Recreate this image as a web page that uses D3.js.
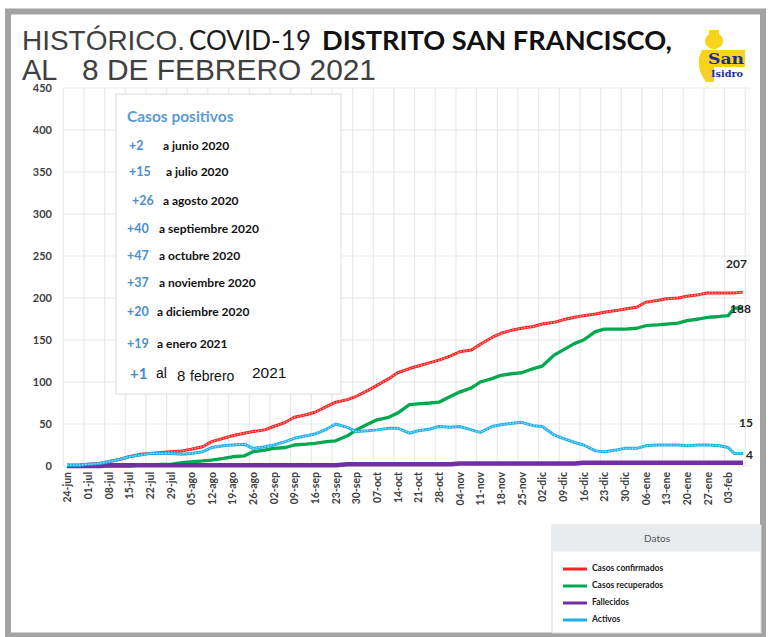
<!DOCTYPE html>
<html>
<head>
<meta charset="utf-8">
<script src="https://cdn.jsdelivr.net/npm/d3@7"></script>
<style>
  body { margin: 0; background: #fff; }
</style>
</head>
<body>
<div id="chart"></div>
<script>
// --- data ---
var dates = ['2020-06-24','2020-06-28','2020-07-01','2020-07-05','2020-07-08','2020-07-12','2020-07-15','2020-07-19',
  '2020-07-22','2020-07-26','2020-07-29','2020-08-02','2020-08-05','2020-08-09','2020-08-12','2020-08-16','2020-08-19',
  '2020-08-23','2020-08-26','2020-08-30','2020-09-02','2020-09-06','2020-09-09','2020-09-13','2020-09-16','2020-09-20',
  '2020-09-23','2020-09-27','2020-09-30','2020-10-04','2020-10-07','2020-10-11','2020-10-14','2020-10-18','2020-10-21',
  '2020-10-25','2020-10-28','2020-11-01','2020-11-04','2020-11-08','2020-11-11','2020-11-15','2020-11-18','2020-11-22',
  '2020-11-25','2020-11-29','2020-12-02','2020-12-06','2020-12-09','2020-12-13','2020-12-16','2020-12-20','2020-12-23',
  '2020-12-27','2020-12-30','2021-01-03','2021-01-06','2021-01-10','2021-01-13','2021-01-17','2021-01-20','2021-01-24',
  '2021-01-27','2021-01-31','2021-02-03','2021-02-05','2021-02-08'];

var confirmados = [1,1,2,3,5,8,11,14, 15,16,17,18,20,23,29,33,36, 39,41,43,47,52,58,61,64,71,
  76,79,83,90,96,104,111,116,119, 123,126,131,136,138,145,153,158,162, 164,166,169,171,174,177,179,181,183,
  185,187,189,195,197,199,200,202,204, 206,206,206,206,207];
var recuperados = [0,0,0,0,0,0,0,1, 1,2,2,4,5,6,7,9,11, 12,17,19,21,22,25,26,27,29,
  30,36,43,50,55,58,63,73,74, 75,76,83,88,93,100,104,108,110, 111,116,119,132,138,146,150,160,163,
  163,163,164,167,168,169,170,173,175, 177,178,179,188,188];
var fallecidos = [0,0,0,0,1,1,1,1, 1,1,1,1,1,1,1,1,1, 1,1,1,1,1,1,1,1,1,
  1,2,2,2,2,2,2,2,2, 2,2,2,3,3,3,3,3,3, 3,3,3,3,3,3,4,4,4,
  4,4,4,4,4,4,4,4,4, 4,4,4,4,4];
var activos = [1,1,2,3,5,8,11,13, 15,15,15,14,15,17,22,24,25, 26,21,23,25,29,33,36,38,44,
  50,46,41,42,43,45,45,39,42, 44,47,46,47,43,40,47,49,51, 52,48,47,37,33,28,25,18,17,
  19,21,21,24,25,25,25,24,25, 25,24,22,15,15];

var yTicks = [0,50,100,150,200,250,300,350,400,450];
var mesesAbr = ['ene','feb','mar','abr','may','jun','jul','ago','sep','oct','nov','dic'];

var casosMes = ['+2','+15','+26','+40','+47','+37','+20','+19'];
var casosTexto = ['a junio 2020','a julio 2020','a agosto 2020','a septiembre 2020','a octubre 2020',
  'a noviembre 2020','a diciembre 2020','a enero 2021'];

var seriesNames = ['Casos confirmados','Casos recuperados','Fallecidos','Activos'];
var seriesColors = ['#ff2020','#00a84f','#7030a0','#1eb0ea'];

// --- layout ---
var W = 769, H = 637;
var svg = d3.select('#chart').append('svg').attr('width', W).attr('height', H)
  .attr('font-family', 'Lato, "Open Sans", sans-serif');
var ARIAL = '"Liberation Sans", Arial, sans-serif';

svg.append('rect').attr('x', 8).attr('y', 11.5).attr('width', 755).attr('height', 624)
  .attr('fill', '#fff').attr('stroke', '#a3a3a3').attr('stroke-width', 6);

var parse = d3.timeParse('%Y-%m-%d');
var dts = dates.map(parse);

var x = d3.scaleTime()
  .domain([parse('2020-06-24'), parse('2021-02-08')])
  .range([67, 743]);
var y = d3.scaleLinear().domain([0, 450]).range([466, 88]);

var weeks = d3.timeWednesday.range(parse('2020-06-24'), parse('2021-02-05'));

// gridlines
var grid = svg.append('g');
grid.selectAll('line.h').data(yTicks).enter().append('line')
  .attr('x1', 63).attr('x2', 750)
  .attr('y1', function(d){ return y(d); }).attr('y2', function(d){ return y(d); })
  .attr('stroke', '#e6eaec').attr('stroke-width', 1.2);
grid.selectAll('line.v').data(weeks.concat([d3.timeDay.offset(weeks[weeks.length-1], 7)])).enter().append('line')
  .attr('x1', function(d){ return x(d3.timeHour.offset(d, -30)); })
  .attr('x2', function(d){ return x(d3.timeHour.offset(d, -30)); })
  .attr('y1', 88).attr('y2', 466)
  .attr('stroke', '#e6eaec').attr('stroke-width', 1.2);

// y axis labels
svg.append('g').selectAll('text').data(yTicks).enter().append('text')
  .attr('x', 52).attr('y', function(d){ return y(d); }).attr('dy', '0.35em')
  .attr('text-anchor', 'end').attr('font-size', 11).attr('font-weight', 'bold')
  .attr('fill', '#404040').text(function(d){ return d; });

// x axis labels
var fmtDia = d3.timeFormat('%d');
var xAxis = d3.axisBottom(x).tickValues(weeks).tickSize(0)
  .tickFormat(function(d){ return fmtDia(d) + '-' + mesesAbr[d.getMonth()]; });
var xg = svg.append('g').attr('transform', 'translate(0,466)').call(xAxis);
xg.select('.domain').remove();
xg.attr('font-family', null);
xg.selectAll('text')
  .attr('transform', 'rotate(-90)')
  .attr('x', -6).attr('y', 0).attr('dy', '0.35em')
  .style('text-anchor', 'end')
  .attr('font-size', 10.5).attr('font-weight', 'bold').attr('fill', '#404040');

// series
var seriesData = [confirmados, recuperados, fallecidos, activos];
var widths = [3, 3.3, 4.5, 3];
var line = function(vals){
  return d3.line()
    .x(function(d, i){ return x(dts[i]); })
    .y(function(d){ return y(d); })(vals);
};
seriesData.forEach(function(vals, k){
  svg.append('path').attr('d', line(vals))
    .attr('fill', 'none').attr('stroke', seriesColors[k])
    .attr('stroke-width', widths[k]).attr('stroke-linejoin', 'round');
  if (k === 0 || k === 3) {
    // marker-like texture of the original
    svg.append('path').attr('d', line(vals))
      .attr('fill', 'none').attr('stroke', k === 0 ? '#ffb3b3' : '#a8e2f8')
      .attr('stroke-width', 1.1).attr('stroke-dasharray', '1.5 1.5');
  }
});

// end labels
var last = dates.length - 1;
var endLabels = [
  { txt: confirmados[last], dx: -17, dy: -28 },
  { txt: recuperados[last], dx: -13, dy: 1 },
  { txt: activos[last], dx: -4, dy: -31 },
  { txt: fallecidos[last], dx: 3, dy: -8 }
];
var endVals = [confirmados[last], recuperados[last], activos[last], fallecidos[last]];
svg.append('g').selectAll('text').data(endLabels).enter().append('text')
  .attr('x', function(d){ return x(dts[last]) + d.dx; })
  .attr('y', function(d, i){ return y(endVals[i]) + d.dy; })
  .attr('dy', '0.35em').attr('font-size', 12).attr('font-weight', 'bold')
  .attr('fill', '#262626').text(function(d){ return d.txt; });

// Casos positivos box
var box = svg.append('g');
box.append('rect').attr('x', 116).attr('y', 94).attr('width', 225).attr('height', 300)
  .attr('fill', '#fff').attr('stroke', '#dcdcdc');
box.append('text').attr('x', 127).attr('y', 122).attr('font-size', 15.5).attr('font-weight', 'bold')
  .attr('fill', '#5b9bd5').text('Casos positivos');
var rowY = [146, 172, 201, 229, 256, 283, 312, 344];
var numX = [129, 129, 132, 127, 127, 127, 127, 127];
var txtX = [163, 166, 163, 159, 159, 159, 157, 157];
casosMes.forEach(function(c, i){
  box.append('text').attr('x', numX[i]).attr('y', rowY[i]).attr('dy', '0.35em')
    .attr('font-size', 12.5).attr('font-weight', 'bold').attr('fill', '#4a8ed0').text(c);
  box.append('text').attr('x', txtX[i]).attr('y', rowY[i]).attr('dy', '0.35em')
    .attr('font-size', 12).attr('font-weight', 'bold').attr('fill', '#111').text(casosTexto[i]);
});
box.append('text').attr('x', 130).attr('y', 374).attr('dy', '0.35em')
  .attr('font-size', 15).attr('font-weight', 'bold').attr('fill', '#4a8ed0').text('+1');
var lastRow = box.append('text').attr('y', 372).attr('dy', '0.35em')
  .attr('font-family', ARIAL).attr('fill', '#111');
lastRow.append('tspan').attr('x', 156).attr('font-size', 14).text('al');
lastRow.append('tspan').attr('x', 177).attr('dy', 3).attr('font-size', 15).text('8');
lastRow.append('tspan').attr('x', 190).attr('font-size', 14).text('febrero');
lastRow.append('tspan').attr('x', 252).attr('dy', -3).attr('font-size', 15.5).text('2021');

// title
var t1 = svg.append('text').attr('x', 22).attr('y', 50).attr('fill', '#404040');
t1.append('tspan').attr('font-family', ARIAL).attr('font-size', 28)
  .attr('textLength', 163).attr('lengthAdjust', 'spacingAndGlyphs').text('HISTÓRICO.');
t1.append('tspan').attr('x', 189).attr('font-size', 27).attr('fill', '#1a1a1a')
  .attr('textLength', 122).attr('lengthAdjust', 'spacingAndGlyphs').text('COVID-19');
t1.append('tspan').attr('x', 322).attr('font-size', 27).attr('font-weight', 'bold').attr('fill', '#111')
  .attr('textLength', 350).attr('lengthAdjust', 'spacingAndGlyphs').text('DISTRITO SAN FRANCISCO,');
var t2 = svg.append('text').attr('y', 80).attr('fill', '#404040')
  .attr('font-family', ARIAL).attr('font-size', 29);
t2.append('tspan').attr('x', 22).text('AL');
t2.append('tspan').attr('x', 82).attr('textLength', 294)
  .attr('lengthAdjust', 'spacingAndGlyphs').text('8 DE FEBRERO 2021');

// logo
var logo = svg.append('g');
logo.append('ellipse').attr('cx', 714).attr('cy', 41).attr('rx', 9).attr('ry', 8).attr('fill', '#f7d31a');
logo.append('rect').attr('x', 709).attr('y', 30).attr('width', 10).attr('height', 5).attr('fill', '#f7d31a');
logo.append('path').attr('d', 'M702,50 Q694,66 706,82 L714,82 L714,50 Z').attr('fill', '#f7d31a');
logo.append('rect').attr('x', 706).attr('y', 50).attr('width', 39).attr('height', 17).attr('fill', '#f7d31a');
logo.append('text').attr('x', 708).attr('y', 64).attr('font-family', '"DejaVu Serif", serif')
  .attr('font-size', 15).attr('font-weight', 'bold').attr('fill', '#1b2b96')
  .attr('textLength', 36).attr('lengthAdjust', 'spacingAndGlyphs').text('San');
logo.append('text').attr('x', 711).attr('y', 77).attr('font-family', '"DejaVu Serif", serif')
  .attr('font-size', 9).attr('font-weight', 'bold').attr('fill', '#1b2b96')
  .attr('textLength', 32).attr('lengthAdjust', 'spacingAndGlyphs').text('Isidro');

// Datos legend
var lg = svg.append('g');
lg.append('rect').attr('x', 552).attr('y', 525).attr('width', 209).attr('height', 108)
  .attr('fill', '#fff').attr('stroke', '#d9d9d9');
lg.append('rect').attr('x', 552.5).attr('y', 525.5).attr('width', 208).attr('height', 26).attr('fill', '#e9ecee');
lg.append('text').attr('x', 657).attr('y', 538).attr('dy', '0.35em').attr('text-anchor', 'middle')
  .attr('font-size', 10).attr('fill', '#555').text('Datos');
var legY = [568, 585, 602, 619];
seriesNames.forEach(function(n, i){
  lg.append('line').attr('x1', 563).attr('x2', 587).attr('y1', legY[i] + 1).attr('y2', legY[i] + 1)
    .attr('stroke', seriesColors[i]).attr('stroke-width', 3);
  lg.append('text').attr('x', 592).attr('y', legY[i]).attr('dy', '0.35em')
    .attr('font-size', 8.5).attr('font-weight', 'bold').attr('fill', '#222').text(n);
});
</script>
</body>
</html>
